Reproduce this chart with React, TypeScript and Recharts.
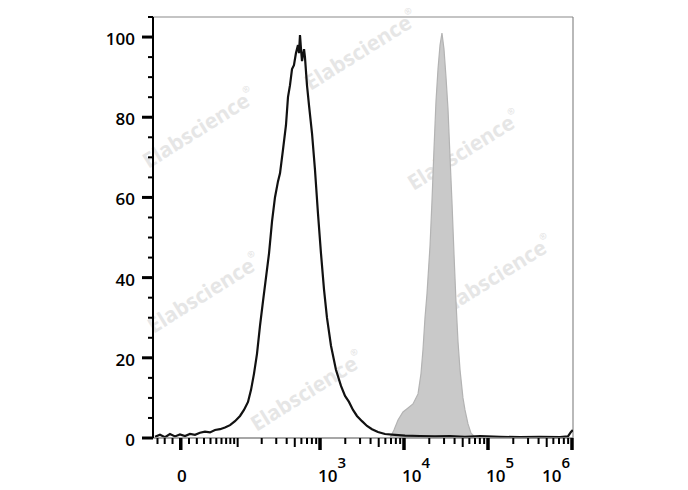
import React from "react";
import { ComposedChart, Line, Area, XAxis, YAxis, ReferenceLine } from "recharts";

// display channel (decades on the biexponential axis) and % of max
const openChannel = [
  1.036, 1.095, 1.155, 1.214, 1.274, 1.333, 1.393, 1.452, 1.512, 1.571, 1.631, 1.69, 1.75,
  1.81, 1.869, 1.929, 1.988, 2.048, 2.095, 2.143, 2.179, 2.214, 2.25, 2.286, 2.321, 2.357,
  2.393, 2.429, 2.464, 2.5, 2.524, 2.56, 2.595, 2.619, 2.643, 2.667, 2.69, 2.714, 2.738,
  2.75, 2.762, 2.774, 2.786, 2.81, 2.821, 2.845, 2.869, 2.905, 2.94, 2.976, 3.012, 3.048,
  3.083, 3.131, 3.19, 3.25, 3.298, 3.345, 3.393, 3.44, 3.5, 3.56, 3.619, 3.69, 3.774, 3.893,
  4.012, 4.19, 4.369, 4.548, 4.726, 4.905, 5.143, 5.381, 5.619, 5.857, 5.952, 5.988, 6.01,
];
const openCount = [
  0.3, 0.8, 0.2, 1.0, 0.4, 0.9, 0.5, 1.0, 0.8, 1.3, 1.6, 1.4, 2.0, 2.2, 2.6, 3.2, 4.2, 5.5,
  7, 9, 12, 16, 21, 28, 34, 40, 46, 54, 60, 64, 66, 72, 78, 85, 88, 92, 93, 96, 98, 96, 100.5,
  97, 94, 97, 95, 88, 83, 76, 67, 56, 46, 37, 30, 23, 17, 13, 10.5, 9, 7, 5.5, 4.2, 3.0, 2.2,
  1.5, 1.0, 0.8, 0.6, 0.5, 0.4, 0.5, 0.3, 0.5, 0.3, 0.2, 0.3, 0.2, 0.4, 1.5, 2.0,
];

const filledChannel = [
  3.833, 3.881, 3.929, 3.988, 4.048, 4.107, 4.167, 4.202, 4.226, 4.25, 4.274, 4.31, 4.333,
  4.357, 4.381, 4.405, 4.429, 4.452, 4.476, 4.5, 4.524, 4.548, 4.571, 4.595, 4.619, 4.643,
  4.667, 4.702, 4.726, 4.762, 4.798, 4.845,
];
const filledCount = [
  0, 2, 4.5, 6.5, 7.5, 8.5, 11, 16, 22, 30, 36, 48, 59, 72, 84, 92, 98, 101, 97, 90, 82, 70,
  59, 46, 34, 24, 17, 10, 7, 3.5, 1.2, 0.2,
];

// axis ticks, in fluorescence units
const majorTicks = [0, 1e3, 1e4, 1e5, 1e6];
const majorExp = ["", "3", "4", "5", "6"];
const linearTicks = [-30, -20, -10, 10, 20, 30, 40, 50, 60, 70, 80, 90];
const decades = [2, 3, 4, 5];
const multipliers = [2, 3, 4, 5, 6, 7, 8, 9];
const yTicks = [0, 5, 10, 15, 20, 25, 30, 35, 40, 45, 50, 55, 60, 65, 70, 75, 80, 85, 90, 95, 100, 105];

const C = 22;
const toChannel = (v: number) => Math.log10((v + Math.sqrt(v * v + 4 * C * C)) / 2);

const X_MIN = 1.012;
const X_MAX = 6.012;
const Y_MAX = 105;

const openData = openChannel.map((x, i) => ({ x, y: openCount[i] }));
const filledData = filledChannel.map((x, i) => ({ x, y: filledCount[i] }));

type TickInfo = { u: number; kind: "major" | "mid" | "minor"; exp?: string; last?: boolean };
const tickInfos: TickInfo[] = [];
majorTicks.forEach((v, i) =>
  tickInfos.push({ u: toChannel(v), kind: "major", exp: majorExp[i], last: i === majorTicks.length - 1 })
);
linearTicks.forEach((v) => tickInfos.push({ u: toChannel(v), kind: "minor" }));
tickInfos.push({ u: toChannel(100), kind: "mid" });
decades.forEach((d) =>
  multipliers.forEach((k) =>
    tickInfos.push({ u: toChannel(k * Math.pow(10, d)), kind: k === 5 ? "mid" : "minor" })
  )
);
const xTickValues = tickInfos.map((t) => t.u).filter((u) => u >= X_MIN && u <= X_MAX + 0.001);

const findTick = (u: number) =>
  tickInfos.reduce((best, t) => (Math.abs(t.u - u) < Math.abs(best.u - u) ? t : best), tickInfos[0]);

const FONT = "'Open Sans', 'DejaVu Sans', sans-serif";

const XTick = (props: any) => {
  const { x, y, payload } = props;
  const t = findTick(payload.value);
  const len = t.kind === "major" ? 12 : t.kind === "mid" ? 9 : 6;
  const w = t.kind === "major" ? 3.5 : 2;
  return (
    <g>
      <line x1={x} x2={x} y1={y} y2={y + len} stroke="#000" strokeWidth={w} />
      {t.kind === "major" &&
        (t.exp === "" ? (
          <text x={x + 1} y={y + 44} textAnchor="middle" fontFamily={FONT} fontSize={17} fontWeight={600} fill="#000">
            0
          </text>
        ) : (
          <text
            x={t.last ? x - 30 : x - 2}
            y={y + 44}
            textAnchor="start"
            fontFamily={FONT}
            fontSize={17}
            fontWeight={600}
            fill="#000"
          >
            10
            <tspan dy={-14} fontSize={15}>
              {t.exp}
            </tspan>
          </text>
        ))}
    </g>
  );
};

const YTick = (props: any) => {
  const { x, y, payload } = props;
  const major = payload.value % 20 === 0;
  return (
    <g>
      <line
        x1={x - (major ? 11 : 5)}
        x2={x}
        y1={y}
        y2={y}
        stroke="#000"
        strokeWidth={major ? 3 : 2}
      />
      {major && (
        <text x={x - 18} y={y + 8} textAnchor="end" fontFamily={FONT} fontSize={17} fontWeight={600} fill="#000">
          {payload.value}
        </text>
      )}
    </g>
  );
};

const marks = [
  { x: 362, y: 52 },
  { x: 200, y: 130 },
  { x: 465, y: 152 },
  { x: 497, y: 277 },
  { x: 205, y: 295 },
  { x: 308, y: 393 },
];

export default function App() {
  return (
    <div style={{ position: "absolute", left: 0, top: 0, width: 688, height: 490, background: "#fff" }}>
      <svg width={688} height={490} style={{ position: "absolute", left: 0, top: 0 }}>
        {marks.map((m, i) => (
          <text
            key={i}
            x={m.x}
            y={m.y}
            textAnchor="middle"
            dominantBaseline="middle"
            transform={`rotate(-32 ${m.x} ${m.y})`}
            fontFamily={FONT}
            fontWeight={700}
            fontSize={21}
            fill="#e6e6e6"
          >
            Elabscience
            <tspan dy={-9} fontSize={9}>
              ®
            </tspan>
          </text>
        ))}
      </svg>
      <div style={{ position: "absolute", left: 0, top: 0 }}>
        <ComposedChart width={688} height={490} margin={{ top: 17, right: 115, bottom: 0, left: 0 }}>
          <XAxis
            type="number"
            dataKey="x"
            domain={[X_MIN, X_MAX]}
            ticks={xTickValues}
            interval={0}
            allowDataOverflow
            height={52}
            tickSize={0}
            tickMargin={0}
            tick={(p: any) => <XTick {...p} />}
            axisLine={{ stroke: "#8a8a8a", strokeWidth: 1.5 }}
            tickLine={false}
          />
          <YAxis
            type="number"
            domain={[0, Y_MAX]}
            ticks={yTicks}
            interval={0}
            width={153}
            tickSize={0}
            tickMargin={0}
            tick={(p: any) => <YTick {...p} />}
            axisLine={{ stroke: "#000", strokeWidth: 2 }}
            tickLine={false}
          />
          <ReferenceLine y={Y_MAX} stroke="#8a8a8a" strokeWidth={1.2} ifOverflow="visible" />
          <ReferenceLine x={X_MAX} stroke="#8a8a8a" strokeWidth={1.2} ifOverflow="visible" />
          <Area
            data={filledData}
            dataKey="y"
            type="linear"
            stroke="#b3b3b3"
            strokeWidth={1.2}
            fill="#c9c9c9"
            fillOpacity={1}
            baseValue={0}
            dot={false}
            activeDot={false}
            isAnimationActive={false}
          />
          <Line
            data={openData}
            dataKey="y"
            type="linear"
            stroke="#111"
            strokeWidth={2.2}
            dot={false}
            activeDot={false}
            isAnimationActive={false}
          />
        </ComposedChart>
      </div>
    </div>
  );
}
